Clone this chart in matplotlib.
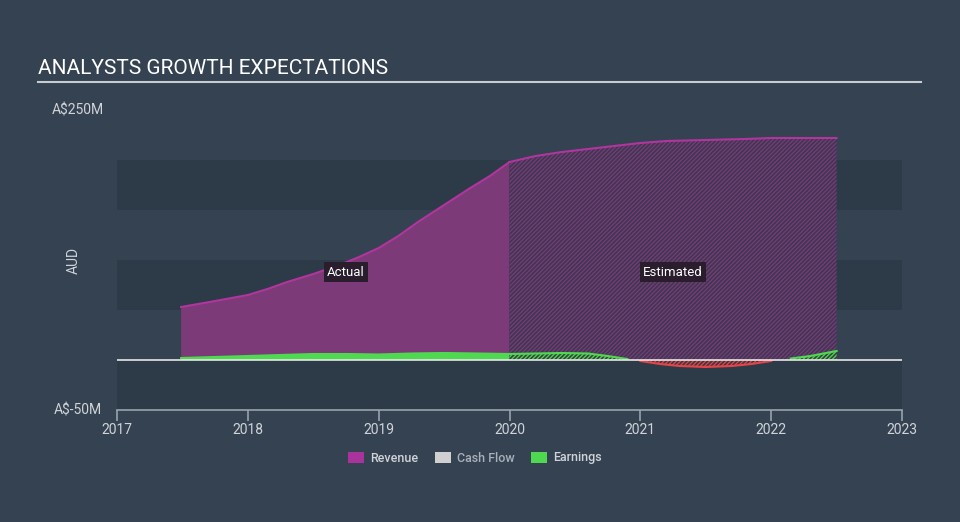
import matplotlib
matplotlib.use("Agg")
import matplotlib.pyplot as plt
import numpy as np
from matplotlib.patches import Patch

plt.rcParams['font.family'] = ['Roboto', 'DejaVu Sans']
plt.rcParams['hatch.linewidth'] = 0.9

# Data (A$ millions)
rev_years = [2017.49, 2017.75, 2018.0, 2018.15, 2018.3, 2018.5, 2018.7, 2018.85, 2019.0, 2019.15,
             2019.3, 2019.5, 2019.7, 2019.85, 2020.0]
rev_vals = [53, 59, 65, 71, 78, 86, 95, 103, 112, 124, 138, 155, 172, 184, 198]
rev_est_years = [2020.0, 2020.2, 2020.4, 2020.6, 2020.8, 2021.0, 2021.2, 2021.5, 2021.8, 2022.0, 2022.5]
rev_est_vals = [198, 204, 208, 211, 214, 217, 219, 220, 221, 222, 222]

earn_years = [2017.49, 2017.75, 2018.0, 2018.25, 2018.5, 2018.75, 2019.0, 2019.25, 2019.5, 2019.75, 2020.0]
earn_vals = [2, 3, 4, 5, 6, 6, 5.5, 6.5, 7, 6.5, 6]
earn_est_years = [2020.0, 2020.2, 2020.4, 2020.6, 2020.75, 2020.9, 2021.0, 2021.15, 2021.3, 2021.5,
                  2021.7, 2021.85, 2022.0, 2022.15, 2022.3, 2022.5]
earn_est_vals = [6, 6.5, 7, 6.5, 4, 1, -1, -4, -6, -7, -6, -4, -1, 1.5, 4, 9]

x_ticks = [2017, 2018, 2019, 2020, 2021, 2022, 2023]
y_tick_labels = {250: "A$250M", -50: "A$-50M"}

BG = "#344252"
BAND = "#2d3a48"
REV_LINE = "#b0359d"
REV_FILL = "#7c3a78"
REV_EST_FILL = "#3c3852"
EARN = "#4fd951"
NEG = "#e2464a"
TXT = "#d0d4d8"
HATCH = '////////'

fig = plt.figure(figsize=(9.6, 5.22), dpi=100, facecolor=BG)
ax = fig.add_axes([117/960, 112/522, 785/960, 300/522])
ax.set_facecolor(BG)
ax.set_xlim(2017, 2023)
ax.set_ylim(-50, 250)

for lo, hi in [(150, 200), (50, 100), (-50, 0)]:
    ax.axhspan(lo, hi, color=BAND, zorder=0, lw=0)

# Revenue actual
ax.fill_between(rev_years, 0, rev_vals, facecolor=REV_FILL, lw=0, zorder=2)
ax.plot(rev_years, rev_vals, color=REV_LINE, lw=1.5, zorder=3)
# Revenue estimated
ax.fill_between(rev_est_years, 0, rev_est_vals, facecolor=REV_EST_FILL, edgecolor=REV_FILL,
                hatch=HATCH, lw=0, zorder=2)
ax.plot(rev_est_years, rev_est_vals, color=REV_LINE, lw=1.5, zorder=3)

# Earnings actual
ax.fill_between(earn_years, 0, earn_vals, facecolor=EARN, lw=0, zorder=4)
ax.plot(earn_years, earn_vals, color=EARN, lw=1.5, zorder=5)
# Earnings estimated
ey = np.array(earn_est_years)
ev = np.array(earn_est_vals, dtype=float)
ax.fill_between(ey, 0, ev, where=ev >= 0, interpolate=True, facecolor="#36443f",
                edgecolor=EARN, hatch=HATCH, lw=0, zorder=4)
ax.fill_between(ey, 0, ev, where=ev <= 0, interpolate=True, facecolor="#40363f",
                edgecolor=NEG, hatch=HATCH, lw=0, zorder=4)
ax.plot(ey, np.ma.masked_less(ev, 0), color=EARN, lw=1.5, zorder=5)
ax.plot(ey, np.ma.masked_greater(ev, 0), color=NEG, lw=1.5, zorder=5)

ax.axhline(0, color="#e6e6e6", lw=1.2, zorder=6)

# axes styling
for s in ["top", "right", "left"]:
    ax.spines[s].set_visible(False)
ax.spines["bottom"].set_color("#9aa3ad")
ax.spines["bottom"].set_linewidth(1.2)
ax.set_xticks(x_ticks)
ax.set_xticklabels([str(t) for t in x_ticks])
ax.tick_params(axis="x", colors="#9aa3ad", labelcolor=TXT, labelsize=10, length=8, width=1.2, pad=1)
ax.set_yticks([])
for v, lab in y_tick_labels.items():
    ax.text(-0.05, v, lab, transform=ax.get_yaxis_transform(), ha="center", va="center",
            color=TXT, fontsize=10)
ax.text(-0.055, 100, "AUD", transform=ax.get_yaxis_transform(), rotation=90, ha="center",
        va="center", color=TXT, fontsize=10)

box = dict(boxstyle="square,pad=0.25", facecolor="#2a1d2e", edgecolor="none")
ax.text(2018.75, 88, "Actual", ha="center", va="center", color="white", fontsize=9.5, bbox=box, zorder=7)
ax.text(2021.25, 88, "Estimated", ha="center", va="center", color="white", fontsize=9.5, bbox=box, zorder=7)

# Title
fig.text(38/960, 1 - 68/522, "ANALYSTS GROWTH EXPECTATIONS", color="white", fontsize=15,
         ha="left", va="center")
fig.add_artist(plt.Line2D([38/960, 921/960], [1 - 81.5/522, 1 - 81.5/522], color="#c8ccd0", lw=1.5))

# Legend
handles = [Patch(facecolor="#a8339a", label="Revenue"),
           Patch(facecolor="#d0d0d0", label="Cash Flow"),
           Patch(facecolor=EARN, label="Earnings")]
leg = fig.legend(handles=handles, loc="center", bbox_to_anchor=(475/960, 1 - 458/522), ncol=3,
                 frameon=False, prop={'size': 9, 'weight': 'medium'}, handlelength=1.3,
                 handleheight=1.0, columnspacing=1.3, handletextpad=0.5)
for t, c in zip(leg.get_texts(), [TXT, "#a8b0b8", TXT]):
    t.set_color(c)

fig.savefig("out.png", dpi=100, facecolor=BG)
